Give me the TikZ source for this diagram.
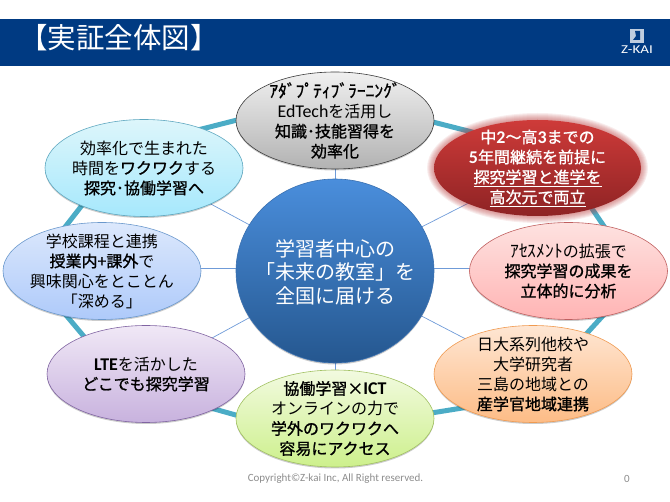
\documentclass[tikz,border=0pt]{standalone}
\usepackage{fontspec}
\setmainfont{Noto Sans CJK JP}[BoldFont=Noto Sans CJK JP,BoldFeatures={FakeBold=1.1}]
\newfontfamily\lat{Carlito}[Scale=1.12]
\newfontfamily\foot{Carlito}
\usetikzlibrary{shapes.geometric,shadows,backgrounds}
\definecolor{band}{HTML}{003A82}
\definecolor{ringc}{HTML}{4BACC6}
\definecolor{spoke}{HTML}{6F9BD8}
\tikzset{
  elli/.style={ellipse,inner sep=0pt,minimum width=198pt,minimum height=97pt,line width=.6pt,
    drop shadow={shadow xshift=0pt,shadow yshift=-1.5pt,opacity=.2,fill=black}},
  txt/.style={align=center,inner sep=0pt,font=\fontsize{16}{20}\selectfont,text=black},
  ringseg/.style={draw=ringc,line width=5pt},
  spokeline/.style={draw=spoke,line width=.7pt},
  footnote/.style={inner sep=0pt,text=black!45,font=\foot\fontsize{11}{12}\selectfont},
}
\definecolor{cgA}{HTML}{F0F0F0}\definecolor{cgB}{HTML}{B2B2B2}\definecolor{cgD}{HTML}{3A3A3A}
\definecolor{ccA}{HTML}{DDF6FB}\definecolor{ccB}{HTML}{A6E8FC}\definecolor{ccD}{HTML}{5FA8C0}
\definecolor{crA}{HTML}{CE3B39}\definecolor{crB}{HTML}{8E2324}
\definecolor{cbA}{HTML}{DCE8FC}\definecolor{cbB}{HTML}{AECAFA}\definecolor{cbD}{HTML}{6A98CC}
\definecolor{cpA}{HTML}{FEE2E0}\definecolor{cpB}{HTML}{FFB4B4}\definecolor{cpD}{HTML}{C06060}
\definecolor{cvA}{HTML}{F0E8F6}\definecolor{cvB}{HTML}{C8B2DE}\definecolor{cvD}{HTML}{8064A2}
\definecolor{coA}{HTML}{FEE6D3}\definecolor{coB}{HTML}{FDBC86}\definecolor{coD}{HTML}{F09A50}
\definecolor{cnA}{HTML}{F2FAE0}\definecolor{cnB}{HTML}{CDF08C}\definecolor{cnD}{HTML}{A0C060}
\definecolor{cuA}{HTML}{4A8EDC}\definecolor{cuB}{HTML}{25578F}\definecolor{cuD}{HTML}{3A70B0}
\definecolor{glowc}{HTML}{B83A3A}
\newcommand{\bb}[1]{\textbf{#1}}
\newcommand{\hw}[1]{{\fontsize{17.5}{20}\selectfont #1}}
\begin{document}
\begin{tikzpicture}[x=1pt,y=-1pt]
\useasboundingbox (0,0) rectangle (670,502);
% header
\fill[band] (0,19) rectangle (670,66);
\node[inner sep=0pt,text=white,font=\fontsize{28.5}{30}\selectfont] (title) at (119,38) {【実証全体図】};
% logo
\fill[white,opacity=.75] (630,29) rectangle (644,43);
\fill[band] (635,31) -- (640,31) -- (640,40) -- (633,40) -- (636,36) -- cycle;
\node[inner sep=0pt,text=white,font=\foot\fontsize{12}{12}\selectfont,xscale=1.25] (logo) at (637,50) {Z-KAI};
% nodes
\node[elli,draw=cgD,top color=cgA,bottom color=cgB] (gray) at (335,120.5) {};
\node[elli,draw=ccD,top color=ccA,bottom color=ccB] (cyanN) at (144,168) {};
\foreach \r in {7,6,5,4,3,2,1}{
  \fill[glowc,opacity=.09] (537.5,168) ellipse ({103.5+\r} and {48+\r});
}
\node[ellipse,inner sep=0pt,minimum width=207pt,minimum height=96pt,top color=crA,bottom color=crB] (redN) at (537.5,168) {};
\node[elli,draw=cbD,top color=cbA,bottom color=cbB] (blueN) at (102,271) {};
\node[elli,draw=cpD,top color=cpA,bottom color=cpB] (pink) at (568.5,271) {};
\node[elli,draw=cvD,top color=cvA,bottom color=cvB] (purple) at (146,374) {};
\node[elli,draw=coD,top color=coA,bottom color=coB] (orangeN) at (533,374) {};
\node[elli,draw=cnD,top color=cnA,bottom color=cnB] (greenN) at (335,418.5) {};
\node[elli,minimum width=198pt,minimum height=184pt,draw=cuD,top color=cuA,bottom color=cuB] (circ) at (335,271) {};
% texts
\node[txt] (graytxt) at (335,120.5) {\bb{\hw{ｱﾀﾞﾌﾟﾃｨﾌﾞﾗｰﾆﾝｸﾞ}}\\{\lat EdTech}を活用し\\\bb{知識･技能習得を}\\\bb{効率化}};
\node[txt] (cyantxt) at (144,168) {効率化で生まれた\\時間を\bb{ワクワク}する\\\bb{探究･協働学習へ}};
\node[txt,text=white] (redtxt) at (537.5,168) {\bb{中{\lat 2}～高{\lat 3}までの}\\\bb{{\lat 5}年間継続を前提に}\\\bb{\underline{探究学習と進学を}}\\\bb{\underline{高次元で両立}}};
\node[txt] (bluetxt) at (102,271) {学校課程と連携\\\bb{授業内+課外}で\\興味関心をとことん\\「深める」};
\node[txt] (pinktxt) at (568.5,271) {\hw{ｱｾｽﾒﾝﾄ}の拡張で\\\bb{探究学習の成果を}\\\bb{立体的に分析}};
\node[txt] (purpletxt) at (146,374) {\bb{\lat LTE}を活かした\\\bb{どこでも探究学習}};
\node[txt] (orangetxt) at (533,374) {日大系列他校や\\大学研究者\\三島の地域との\\\bb{産学官地域連携}};
\node[txt] (greentxt) at (335,418.5) {\bb{協働学習×{\lat ICT}}\\オンラインの力で\\\bb{学外のワクワクへ}\\\bb{容易にアクセス}};
\node[txt,text=white,font=\fontsize{20}{23.5}\selectfont] (circtxt) at (335,272) {学習者中心の\\「未来の教室」を\\全国に届ける};
% footer
\node[footnote] (copy) at (335.5,478.5) {Copyright©Z-kai Inc, All Right reserved.};
\node[footnote] (pageno) at (627,478.5) {0};
% ring and spokes under the nodes
\begin{pgfonlayer}{background}
\coordinate (r1a) at (245,118); \coordinate (r1b) at (190,132);
\coordinate (r2a) at (90,195);  \coordinate (r2b) at (55,240);
\coordinate (r3a) at (60,308);  \coordinate (r3b) at (92,346);
\coordinate (r4a) at (200,405); \coordinate (r4b) at (250,419);
\coordinate (r5a) at (425,414); \coordinate (r5b) at (475,406);
\coordinate (r6a) at (610,308); \coordinate (r6b) at (578,343);
\coordinate (r7a) at (612,238); \coordinate (r7b) at (584,197);
\coordinate (r8a) at (480,134); \coordinate (r8b) at (425,120);
\foreach \s in {1,...,8}{ \draw[ringseg] (r\s a) -- (r\s b); }
\draw[spokeline] (circ.center) -- (gray.center);
\draw[spokeline] (circ.center) -- (cyanN.center);
\draw[spokeline] (circ.center) -- (redN.center);
\draw[spokeline] ([yshift=3pt]circ.center) -- ([yshift=3pt]blueN.center);
\draw[spokeline] ([yshift=3pt]circ.center) -- ([yshift=3pt]pink.center);
\draw[spokeline] (circ.center) -- (purple.center);
\draw[spokeline] (circ.center) -- (orangeN.center);
\draw[spokeline] (circ.center) -- (greenN.center);
\end{pgfonlayer}
\end{tikzpicture}
\end{document}
